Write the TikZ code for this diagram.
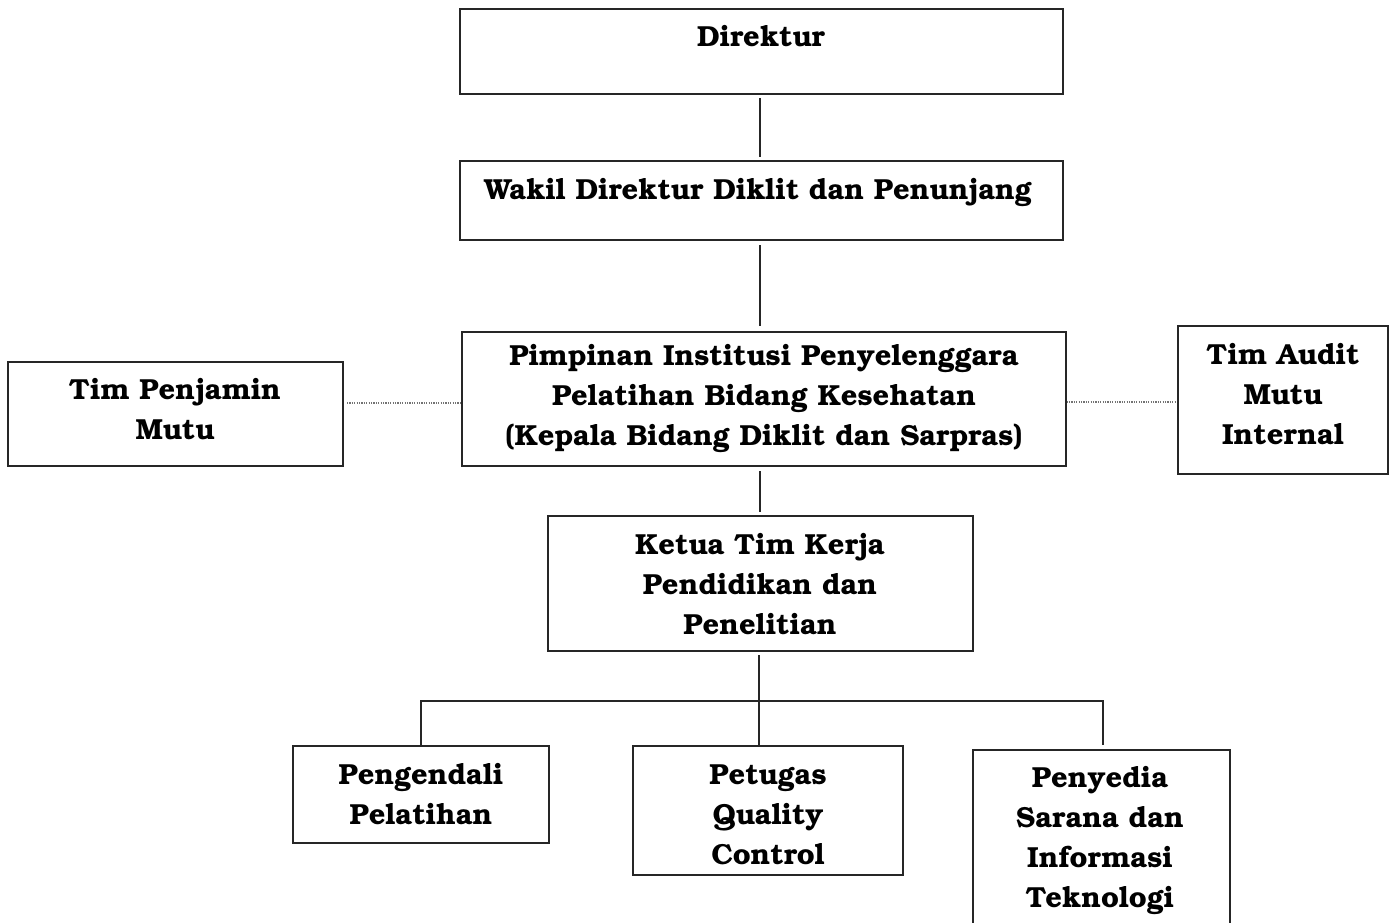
\documentclass[tikz,border=0pt]{standalone}
\usepackage[T1]{fontenc}
\usepackage{bookman}
\begin{document}
\begin{tikzpicture}[x=1pt,y=-1pt,
  box/.style={draw=black!85,line width=1.3pt,inner sep=0pt,rectangle},
  txt/.style={align=center,inner sep=0pt,anchor=base,font=\bfseries\fontsize{29}{40}\selectfont},
  conn/.style={draw=black!85,line width=1.1pt},
  dots/.style={draw=black!55,line width=1.3pt,dash pattern=on 1.2pt off 1.2pt}]
\useasboundingbox (0,0) rectangle (1392,923);
\newcommand{\orgbox}[5]{%
  \node[box,minimum width=#4pt-#2pt,minimum height=#5pt-#3pt] (#1) at ({(#2+#4)/2},{(#3+#5)/2}) {};}
\orgbox{dir}{460}{9}{1063}{94}
\orgbox{wak}{460}{161}{1063}{240}
\orgbox{pim}{462}{332}{1066}{466}
\orgbox{tpm}{8}{362}{343}{466}
\orgbox{tam}{1178}{326}{1388}{474}
\orgbox{ket}{548}{516}{973}{651}
\orgbox{pen}{293}{746}{549}{843}
\orgbox{pet}{633}{746}{903}{875}
\orgbox{pny}{973}{750}{1230}{925}
% base anchor = last line baseline
\node[txt] (tdir) at (761,47) {Direktur};
\node[txt] (twak) at (758,199) {Wakil Direktur Diklit dan Penunjang};
\node[txt] (tpim) at (764,445) {Pimpinan Institusi Penyelenggara\\Pelatihan Bidang Kesehatan\\(Kepala Bidang Diklit dan Sarpras)};
\node[txt] (ttpm) at (175,439) {Tim Penjamin\\Mutu};
\node[txt] (ttam) at (1283,444) {Tim Audit\\Mutu\\Internal};
\node[txt] (tket) at (760,634) {Ketua Tim Kerja\\Pendidikan dan\\Penelitian};
\node[txt] (tpen) at (421,824) {Pengendali\\Pelatihan};
\node[txt] (tpet) at (768,864) {Petugas\\Quality\\Control};
\node[txt] (tpny) at (1100,907) {Penyedia\\Sarana dan\\Informasi\\Teknologi};
\coordinate (v1a) at (760,98);
\coordinate (v1b) at (760,157);
\coordinate (v2a) at (760,245);
\coordinate (v2b) at (760,326);
\coordinate (v3a) at (760,471);
\coordinate (v3b) at (760,512);
\coordinate (v4a) at (759,655);
\coordinate (j) at (759,701);
\coordinate (jl) at (421,701);
\coordinate (jr) at (1103,701);
\coordinate (pl) at (421,746);
\coordinate (pr) at (1103,745);
\coordinate (pm) at (759,746);
\coordinate (dl) at (347,403);
\coordinate (dr) at (1177,402);
\draw[conn] (v1a) -- (v1b);
\draw[conn] (v2a) -- (v2b);
\draw[conn] (v3a) -- (v3b);
\draw[conn] (v4a) -- (j);
\draw[conn] (pl) -- (jl) -- (jr) -- (pr);
\draw[conn] (j) -- (pm);
\draw[dots] (dl) -- (dl -| pim.west);
\draw[dots] (dr -| pim.east) -- (dr);
\end{tikzpicture}
\end{document}
